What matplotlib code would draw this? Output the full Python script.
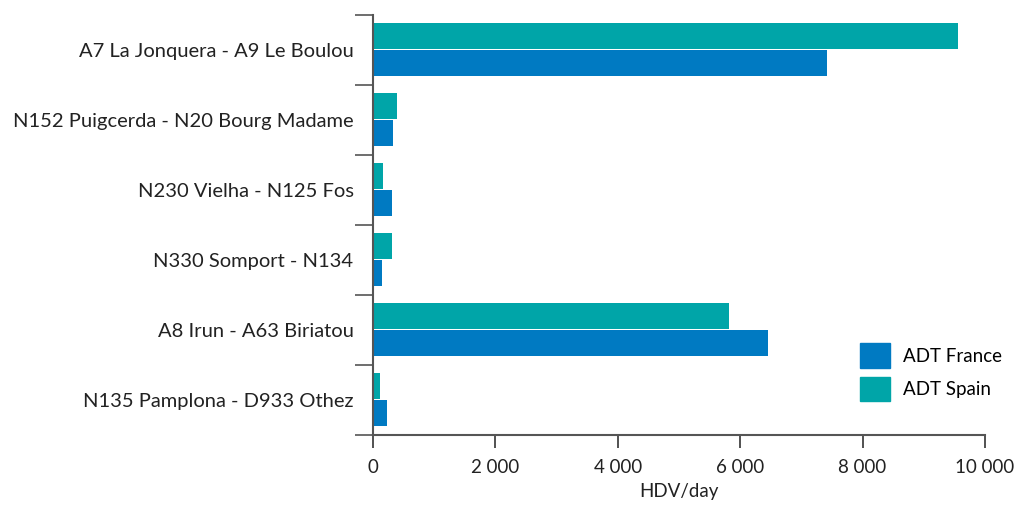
import numpy as np
import matplotlib.pyplot as plt
from matplotlib.patches import Patch

plt.rcParams['font.family'] = ['Lato', 'DejaVu Sans']

routes = ["A7 La Jonquera - A9 Le Boulou",
          "N152 Puigcerda - N20 Bourg Madame",
          "N230 Vielha - N125 Fos",
          "N330 Somport - N134",
          "A8 Irun - A63 Biriatou",
          "N135 Pamplona - D933 Othez"]
adt_france = [7420, 320, 305, 140, 6450, 225]
adt_spain = [9560, 390, 160, 305, 5820, 110]
xticks = [0, 2000, 4000, 6000, 8000, 10000]

c_france = '#007AC2'
c_spain = '#00A5A8'

fig = plt.figure(figsize=(10.18, 5.09), dpi=100)
ax = fig.add_axes([0.3664, 0.1454, 0.6012, 0.8251])

y = np.arange(len(routes))
h = 0.375
ax.barh(y - 0.195, adt_spain, height=h, color=c_spain, label='ADT Spain')
ax.barh(y + 0.19, adt_france, height=h, color=c_france, label='ADT France')

ax.set_ylim(len(routes) - 0.5, -0.5)
ax.set_xlim(0, 10000)
ax.set_yticks(y)
ax.set_yticklabels(routes, fontsize=14.5, color='#222222')
ax.set_yticks(np.arange(len(routes) + 1) - 0.5, minor=True)
ax.tick_params(axis='y', which='major', length=0, pad=14)
ax.tick_params(axis='y', which='minor', length=13, width=1.2, color='#555555')

ax.set_xticks(xticks)
ax.set_xticklabels(['{:,}'.format(v).replace(',', ' ') for v in xticks],
                   fontsize=13.5, color='#222222')
ax.tick_params(axis='x', length=9, width=1.2, color='#333333', pad=8)
ax.set_xlabel('HDV/day', fontsize=13.5, color='#222222', labelpad=5)

for s in ['top', 'right']:
    ax.spines[s].set_visible(False)
for s in ['left', 'bottom']:
    ax.spines[s].set_color('#555555')
    ax.spines[s].set_linewidth(1.5)

handles = [Patch(color=c_france), Patch(color=c_spain)]
ax.legend(handles, ['ADT France', 'ADT Spain'], loc='lower right',
          bbox_to_anchor=(1.055, 0.04), frameon=False, fontsize=13.5,
          handlelength=1.6, handleheight=1.65, labelspacing=0.45,
          handletextpad=0.7)

fig.savefig('out.png', dpi=100)
